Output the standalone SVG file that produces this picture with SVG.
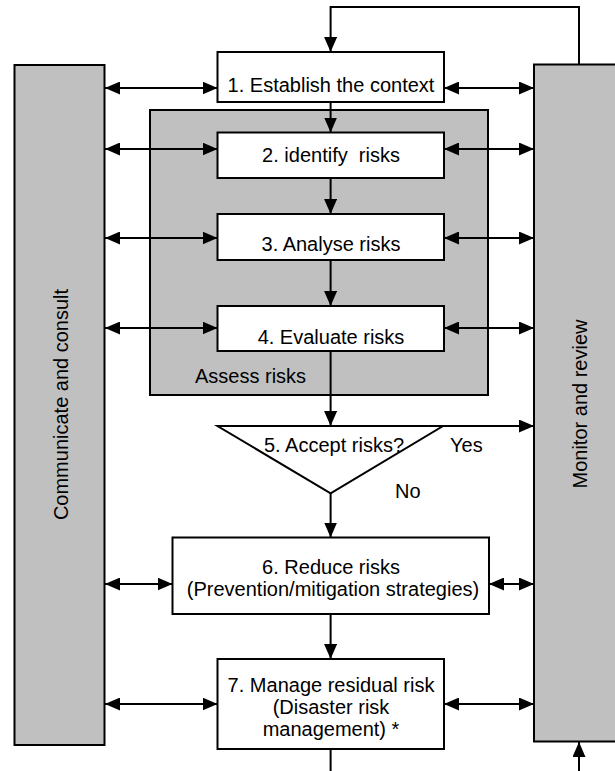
<svg xmlns="http://www.w3.org/2000/svg" width="615" height="771" viewBox="0 0 615 771">
<style>
text{font-family:"Liberation Sans",Arial,Helvetica,sans-serif;font-size:20px;fill:#000}
.c{text-anchor:middle}
.box{fill:#fff;stroke:#000;stroke-width:2}
.bar{fill:#c0c0c0;stroke:#000;stroke-width:2}
.ln{fill:none;stroke:#000;stroke-width:2}
.a{marker-end:url(#ah)}
.d{marker-start:url(#ah);marker-end:url(#ah)}
</style>
<defs>
<marker id="ah" markerUnits="userSpaceOnUse" markerWidth="15" markerHeight="13" refX="15" refY="6.5" orient="auto-start-reverse">
<path d="M0,0 L15,6.5 L0,13 z" fill="#000"/>
</marker>
</defs>
<rect width="615" height="771" fill="#fff"/>
<g id="communicate">
<rect class="bar" x="14.5" y="65" width="90" height="680"/>
<text class="c" transform="translate(68,404.5) rotate(-90)">Communicate and consult</text>
</g>
<g id="monitor">
<rect class="bar" x="534" y="64.5" width="95" height="677"/>
<text class="c" transform="translate(587,404) rotate(-90)">Monitor and review</text>
</g>
<g id="assess">
<rect class="bar" x="150" y="110" width="338" height="285"/>
<text x="195" y="383">Assess risks</text>
</g>
<g id="connectors">
<path class="ln a" d="M579,64.5 V7 H330.6 V52"/>
<line class="ln a" x1="330.6" y1="102" x2="330.6" y2="132.5"/>
<line class="ln a" x1="330.6" y1="178" x2="330.6" y2="214"/>
<line class="ln a" x1="330.6" y1="260" x2="330.6" y2="306"/>
<line class="ln a" x1="330.6" y1="351" x2="330.6" y2="426"/>
<line class="ln a" x1="443" y1="426" x2="534" y2="426"/>
<line class="ln a" x1="330.6" y1="493" x2="330.6" y2="537.5"/>
<line class="ln a" x1="330.6" y1="614" x2="330.6" y2="659"/>
<line class="ln" x1="330.6" y1="749" x2="330.6" y2="771"/>
<line class="ln a" x1="579" y1="771" x2="579" y2="742"/>
<line class="ln d" x1="105" y1="88" x2="217.5" y2="88"/>
<line class="ln d" x1="444" y1="88" x2="534" y2="88"/>
<line class="ln d" x1="105" y1="149" x2="217.5" y2="149"/>
<line class="ln d" x1="444" y1="149" x2="534" y2="149"/>
<line class="ln d" x1="105" y1="238" x2="217.5" y2="238"/>
<line class="ln d" x1="444" y1="238" x2="534" y2="238"/>
<line class="ln d" x1="105" y1="328" x2="217.5" y2="328"/>
<line class="ln d" x1="444" y1="328" x2="534" y2="328"/>
<line class="ln d" x1="105" y1="584" x2="172.5" y2="584"/>
<line class="ln d" x1="489" y1="584" x2="534" y2="584"/>
<line class="ln d" x1="105" y1="704" x2="217.5" y2="704"/>
<line class="ln d" x1="444" y1="704" x2="534" y2="704"/>
</g>
<g id="n1">
<rect class="box" x="217.5" y="52" width="226.5" height="50"/>
<text class="c" x="331" y="92">1. Establish the context</text>
</g>
<g id="n2">
<rect class="box" x="217.5" y="132.5" width="226.5" height="45.5"/>
<text class="c" x="331" y="162" xml:space="preserve">2. identify  risks</text>
</g>
<g id="n3">
<rect class="box" x="217.5" y="214" width="226.5" height="46"/>
<text class="c" x="331" y="251">3. Analyse risks</text>
</g>
<g id="n4">
<rect class="box" x="217.5" y="306" width="226.5" height="45"/>
<text class="c" x="331" y="344">4. Evaluate risks</text>
</g>
<g id="n5">
<path class="box" d="M217.5,426 H443 L330.6,493.3 Z"/>
<text class="c" x="334" y="452">5. Accept risks?</text>
<text x="450" y="452">Yes</text>
<text x="395" y="498">No</text>
</g>
<g id="n6">
<rect class="box" x="172.5" y="537.5" width="316.5" height="76.5"/>
<text class="c" x="331" y="574">6. Reduce risks</text>
<text class="c" x="333" y="596">(Prevention/mitigation strategies)</text>
</g>
<g id="n7">
<rect class="box" x="217.5" y="659" width="226.5" height="90"/>
<text class="c" x="331" y="691.5">7. Manage residual risk</text>
<text class="c" x="331" y="713.5">(Disaster risk</text>
<text class="c" x="331" y="735.5">management) *</text>
</g>
</svg>
